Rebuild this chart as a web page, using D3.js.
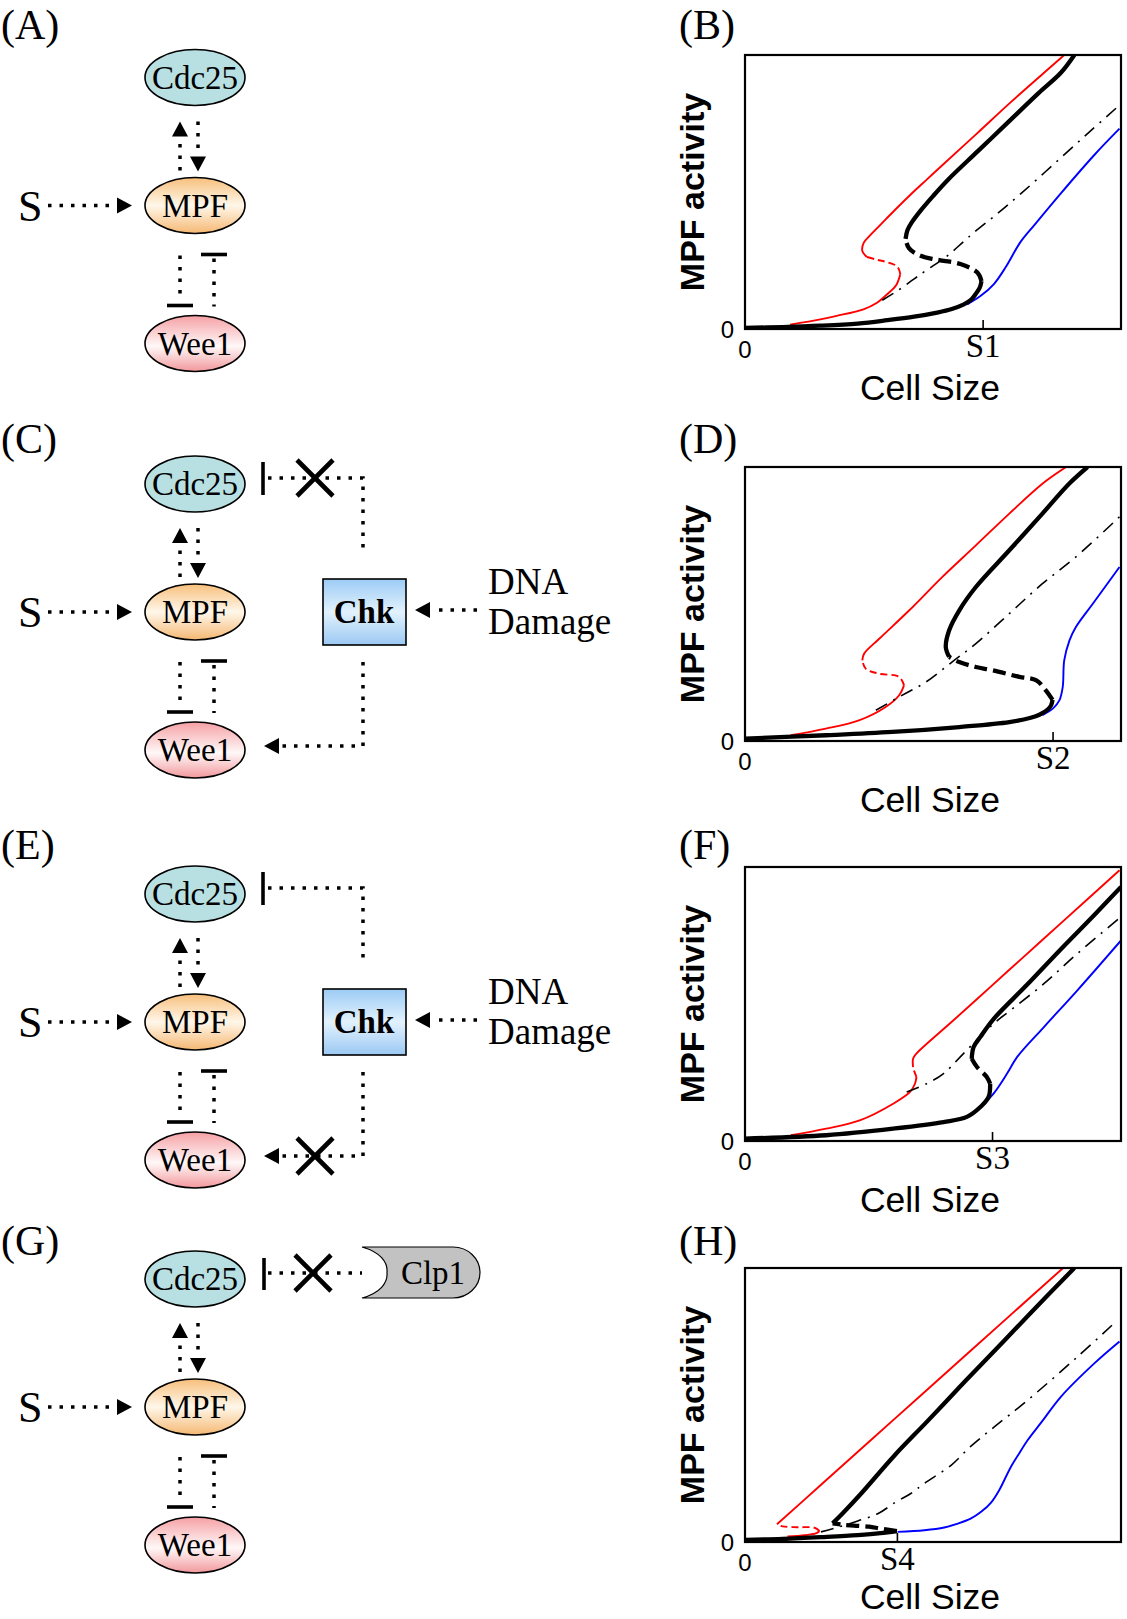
<!DOCTYPE html>
<html><head><meta charset="utf-8">
<script src="https://cdn.jsdelivr.net/npm/d3@7"></script>
<style>body{margin:0;background:#fff}</style>
</head><body>
<svg id="fig" width="1127" height="1619"></svg>
<script>
// ---------------- data ----------------
const panelLettersLeft = ["(A)", "(C)", "(E)", "(G)"];
const panelLettersRight = ["(B)", "(D)", "(F)", "(H)"];
const nodeNames = ["Cdc25", "MPF", "Wee1"];
const inputName = "S";
const kinaseName = "Chk";
const damageLines = ["DNA", "Damage"];
const phosphataseName = "Clp1";
const sizeTickLabels = ["S1", "S2", "S3", "S4"];
const sizeTickValues = [63.2, 81.8, 65.7, 40.4];
const zeroLabel = "0";
const xTitle = "Cell Size";
const yTitle = "MPF activity";

// Panel B
const B_blackLow  = [[0,0.4],[10,0.7],[20,1.2],[30,2],[37.8,3.2],[45,4.5],[51.1,6],[55,7.3],[58.2,9],[60,10.5],[61.3,12.7],[62.4,15],[62.9,17.5]];
const B_blackMid  = [[62.9,17.5],[61.8,20.6],[57.3,23.7],[52.9,24.9],[50.2,25.5],[46.7,26.7],[43.6,29.5],[42.7,32.9]];
const B_blackHigh = [[42.7,32.9],[43.2,36],[44.3,38.8],[46.7,43.2],[50,48.5],[54,54.5],[62,65],[70,75.5],[78,86],[84,93.5],[87.6,100]];
const B_redLow  = [[12,1.6],[20,3.5],[24.4,4.8],[31.5,7.2],[35,9.5],[37.8,12.7],[40.2,16],[41.3,20]];
const B_redMid  = [[41.3,20],[40.5,22.8],[37.5,24.5],[35,25.3],[32.4,26.3]];
const B_redHigh = [[32.4,26.3],[31.2,28.5],[31.6,31.5],[33.5,34.5],[36,38],[40,43.6],[44,49],[48.4,54.6],[52.9,60.3],[61.8,71.5],[70.7,82.8],[79.6,93.6],[84.9,100]];
const B_dashDot = [[36.5,10.5],[40.5,13.9],[44.9,18.2],[48,21.2],[53.8,26.7],[58.2,32],[60.9,35.2],[67,42],[73.3,49.3],[82,60],[91.1,71.3],[99.6,81.7]];
const B_blue = [[59.1,9],[62.7,12.1],[66.2,16.4],[69.3,22.5],[73.2,31.6],[77,38],[84,49.5],[92.9,63.5],[99.6,73.1]];

// Panel D
const D_blackLow  = [[0,0.9],[21.5,2.1],[39.2,3.3],[57,5.1],[70.3,6.9],[76,8.5],[78.3,9.6],[80.5,11.5],[81.4,13],[81.8,15]];
const D_blackMid  = [[81.8,15],[80,18.5],[77.5,22.1],[73,23.4],[65.8,25.8],[61.4,27],[57,28.8],[54.3,30.7]];
const D_blackHigh = [[54.3,30.7],[53.4,34.3],[54.3,40.4],[57,47.7],[61.4,56.2],[70.3,69.6],[79.1,83],[86.2,93.9],[91.1,100]];
const D_redLow  = [[12.2,2.1],[21.5,4.5],[30.3,7.5],[37.4,12.4],[41,16.7],[42.3,20.3]];
const D_redMid  = [[42.3,20.3],[41,23.4],[35.5,24.6],[32.1,26.4],[31.2,29.4]];
const D_redHigh = [[31.2,29.4],[31.7,31.9],[35.7,37.3],[43.7,47.7],[52.5,59.9],[61.4,71.4],[70.3,83],[79.1,93.9],[85.4,100]];
const D_dashDot = [[34.8,11.2],[41,16.1],[48.1,21.5],[55.2,29],[61.4,35.5],[70.3,46.5],[79.1,57.4],[88,67.2],[99.6,81.8]];
const D_blue = [[79.1,9.4],[82,12],[83.6,14.8],[84.5,19.7],[84.9,29.4],[86.3,36.7],[88,41.6],[92.5,50.1],[99.6,63.5]];

// Panel F
const F_blackLow  = [[0,0.9],[21.6,2.1],[39.4,4.5],[52.8,6.9],[59,8.8],[62.6,12.4],[64.8,16.1],[65.2,20.9]];
const F_blackMid  = [[65.2,20.9],[64.3,23.4],[61.7,27],[60.3,30]];
const F_blackHigh = [[60.3,30],[60.8,34.3],[62.6,38],[66.1,44.5],[75,57],[84,70],[92.9,82.5],[100,92.7]];
const F_redLow  = [[12.2,2.1],[21.6,4.5],[30.5,7.5],[39.4,13.6],[43.9,17.9],[45.2,20.9],[45.6,23.4]];
const F_redMid  = [[45.6,23.4],[45,25.5],[44.7,27]];
const F_redHigh = [[44.7,27],[44.7,30],[45.6,31.9],[55,43.5],[65,55.9],[75,68.3],[85,80.7],[99.6,98.8]];
const F_dashDot = [[43,17.9],[48.3,20.9],[52.8,24.6],[58.1,31.9],[66.1,42.8],[70.6,47.7],[79.5,57.4],[88.4,68.4],[100,81.8]];
const F_blue = [[61.7,11.2],[66.1,17.3],[69.7,24.6],[72.4,30.7],[79.5,41.6],[88.4,55],[100,73.2]];

// Panel H
const H_blackLow  = [[0,0.8],[10,1.1],[21,1.8],[30,2.5],[36,3.2],[40.4,4]];
const H_blackMid  = [[40.4,4],[36,4.9],[33,5.6],[29,6],[26,6.3],[23.3,6.8]];
const H_blackHigh = [[23.3,6.8],[26,10.5],[30.9,17.7],[39.7,31.5],[48.6,44.2],[57.4,57],[66.3,69.7],[75.2,82.5],[87.6,100]];
const H_redLow  = [[11.3,2.0],[16,2.5],[19,3.2],[19.8,4]];
const H_redMid  = [[19.8,4],[18.5,5.2],[14,5.4],[10,5.7],[8.5,6.5]];
const H_redHigh = [[8.5,6.5],[20,20.6],[40,45.2],[60,69.8],[84.6,100]];
const H_dashDot = [[20.2,3.7],[25,5.5],[30,7.7],[35.3,10.3],[40.2,14.7],[44.1,17.7],[47.7,21.4],[54.8,28],[60.1,35],[66.3,42],[75.2,51.8],[88.5,67.7],[98.7,80.5]];
const H_blue = [[40.6,3.7],[47.7,4.3],[53,5.3],[56.6,6.7],[60,8.5],[62.8,11],[65.5,14.5],[67.6,18.9],[70.7,27.4],[73,32.5],[75.2,37.2],[79,44],[84,53],[92.9,65.2],[99.6,73.2]];

// ---------------- drawing ----------------
const svg = d3.select("#fig");
const SERIF = "'Liberation Serif','Times New Roman',serif";
const SANS = "'Liberation Sans',Arial,sans-serif";

const defs = svg.append("defs");
function vgrad(id, stops) {
  const g = defs.append("linearGradient").attr("id", id).attr("x1",0).attr("y1",0).attr("x2",0).attr("y2",1);
  stops.forEach(s => g.append("stop").attr("offset", s[0]).attr("stop-color", s[1]));
}
vgrad("gMPF", [[0,"#f7bf7c"],[0.5,"#fff7ea"],[1,"#f5b873"]]);
vgrad("gWee", [[0,"#f5a0a4"],[0.55,"#fff8f8"],[1,"#f2989c"]]);
vgrad("gChk", [[0,"#9ccbf5"],[0.5,"#e2f2fd"],[1,"#9bc8f3"]]);

const DOT = "3.5,8";
function dotted(g, pts) {
  g.append("path").attr("d", d3.line()(pts)).attr("fill","none").attr("stroke","#000")
    .attr("stroke-width",3.5).attr("stroke-dasharray",DOT);
}
function tri(g, x, y, dir) {
  const L = 15, W = 8;
  let p;
  if (dir === "up") p = [[x,y],[x-W,y+L],[x+W,y+L]];
  else if (dir === "down") p = [[x,y],[x-W,y-L],[x+W,y-L]];
  else if (dir === "left") p = [[x,y],[x+L,y-W],[x+L,y+W]];
  else p = [[x,y],[x-L,y-W],[x-L,y+W]];
  g.append("polygon").attr("points", p.map(d=>d.join(",")).join(" ")).attr("fill","#000");
}
function bar(g, x1,y1,x2,y2) {
  g.append("line").attr("x1",x1).attr("y1",y1).attr("x2",x2).attr("y2",y2)
    .attr("stroke","#000").attr("stroke-width",3.6);
}
function xmark(g, cx, cy) {
  const h = 18;
  [[-h,-h,h,h],[-h,h,h,-h]].forEach(a => g.append("line")
    .attr("x1",cx+a[0]).attr("y1",cy+a[1]).attr("x2",cx+a[2]).attr("y2",cy+a[3])
    .attr("stroke","#000").attr("stroke-width",4.6));
}
function node(g, cx, cy, fill, label) {
  g.append("ellipse").attr("cx",cx).attr("cy",cy).attr("rx",50).attr("ry",28)
    .attr("fill",fill).attr("stroke","#000").attr("stroke-width",1.6);
  g.append("text").attr("x",cx).attr("y",cy+11).attr("text-anchor","middle")
    .attr("font-family",SERIF).attr("font-size",33).text(label);
}

const diagramCdcY = [77.5, 484, 894, 1279];
const labelBase = [39, 453, 859, 1255];

function diagram(i) {
  const g = svg.append("g");
  const cy = diagramCdcY[i];
  const m = cy + 128, w = cy + 266, cx = 195;
  g.append("text").attr("x",1).attr("y",labelBase[i]).attr("font-family",SERIF)
    .attr("font-size",42).text(panelLettersLeft[i]);
  dotted(g, [[180, m-35],[180, m-66]]); tri(g, 180, m-84, "up");
  dotted(g, [[198, m-84],[198, m-52]]); tri(g, 198, m-34, "down");
  g.append("text").attr("x",18).attr("y",m+15).attr("font-family",SERIF).attr("font-size",44).text(inputName);
  dotted(g, [[48, m],[118, m]]); tri(g, 132, m, "right");
  dotted(g, [[180, m+50],[180, m+94]]); bar(g, 167, m+100, 193, m+100);
  bar(g, 201, m+49, 227, m+49); dotted(g, [[214, m+53],[214, m+101]]);
  node(g, cx, cy, "#b8dfe2", nodeNames[0]);
  node(g, cx, m, "url(#gMPF)", nodeNames[1]);
  node(g, cx, w, "url(#gWee)", nodeNames[2]);

  if (i === 1 || i === 2) {
    g.append("rect").attr("x",323).attr("y",cy+95).attr("width",83).attr("height",66)
      .attr("fill","url(#gChk)").attr("stroke","#000").attr("stroke-width",1.6);
    g.append("text").attr("x",364).attr("y",cy+139).attr("text-anchor","middle")
      .attr("font-family",SERIF).attr("font-weight","bold").attr("font-size",33).text(kinaseName);
    dotted(g, [[268, cy-6],[363, cy-6],[363, cy+70]]);
    bar(g, 263, cy-22, 263, cy+11);
    dotted(g, [[363, cy+178],[363, cy+262],[280, cy+262]]);
    tri(g, 264, cy+262, "left");
    if (i === 1) xmark(g, 315, cy-6); else xmark(g, 315, cy+262);
    dotted(g, [[477, cy+126],[431, cy+126]]); tri(g, 415, cy+126, "left");
    g.append("text").attr("x",488).attr("y",cy+110).attr("font-family",SERIF).attr("font-size",37).text(damageLines[0]);
    g.append("text").attr("x",488).attr("y",cy+150).attr("font-family",SERIF).attr("font-size",37).text(damageLines[1]);
  }
  if (i === 3) {
    dotted(g, [[268, cy-6],[362, cy-6]]);
    bar(g, 264, cy-21, 264, cy+11);
    xmark(g, 313, cy-6);
    const t = cy-32, b = cy+19;
    g.append("path").attr("d",
      `M362,${t} L453,${t} A27,25.5 0 0 1 453,${b} L362,${b} C380,${b-5} 388,${b-15} 387,${(t+b)/2} C388,${t+15} 380,${t+5} 362,${t} Z`)
      .attr("fill","#c2c2c2").attr("stroke","#000").attr("stroke-width",1.2);
    g.append("text").attr("x",433).attr("y",cy+5).attr("text-anchor","middle")
      .attr("font-family",SERIF).attr("font-size",33).text(phosphataseName);
  }
}

const chartTops = [55, 467, 867, 1268];
const chartSeries = [
  {blackLow:B_blackLow, blackMid:B_blackMid, blackHigh:B_blackHigh, redLow:B_redLow, redMid:B_redMid, redHigh:B_redHigh, dashDot:B_dashDot, blue:B_blue},
  {blackLow:D_blackLow, blackMid:D_blackMid, blackHigh:D_blackHigh, redLow:D_redLow, redMid:D_redMid, redHigh:D_redHigh, dashDot:D_dashDot, blue:D_blue},
  {blackLow:F_blackLow, blackMid:F_blackMid, blackHigh:F_blackHigh, redLow:F_redLow, redMid:F_redMid, redHigh:F_redHigh, dashDot:F_dashDot, blue:F_blue},
  {blackLow:H_blackLow, blackMid:H_blackMid, blackHigh:H_blackHigh, redLow:H_redLow, redMid:H_redMid, redHigh:H_redHigh, dashDot:H_dashDot, blue:H_blue}
];

function chart(i) {
  const top = chartTops[i], H = 274, L = 745, R = 1121, bottom = top + H;
  const x = d3.scaleLinear().domain([0,100]).range([L,R]);
  const y = d3.scaleLinear().domain([0,100]).range([bottom, top]);
  const g = svg.append("g");
  const s = chartSeries[i];
  const clipId = "clip" + i;
  defs.append("clipPath").attr("id", clipId).append("rect")
    .attr("x",L).attr("y",top).attr("width",R-L).attr("height",H);
  const line = d3.line().x(d=>x(d[0])).y(d=>y(d[1])).curve(d3.curveCatmullRom.alpha(0.5));
  const pg = g.append("g").attr("clip-path", `url(#${clipId})`);
  function draw(data, color, width, dash) {
    pg.append("path").attr("d", line(data)).attr("fill","none").attr("stroke",color)
      .attr("stroke-width",width).attr("stroke-dasharray", dash || null);
  }
  draw(s.redLow, "#ff0000", 1.9);
  draw(s.redMid, "#ff0000", 1.9, "7,4");
  draw(s.redHigh, "#ff0000", 1.9);
  draw(s.blue, "#0000ff", 1.9);
  draw(s.dashDot, "#000", 1.6, "13,7,2,7");
  draw(s.blackLow, "#000", 4.3);
  draw(s.blackMid, "#000", 4.3, "13,6");
  draw(s.blackHigh, "#000", 4.3);

  g.append("rect").attr("x",L).attr("y",top).attr("width",R-L).attr("height",H)
    .attr("fill","none").attr("stroke","#000").attr("stroke-width",2.2);

  const xa = g.append("g").attr("transform",`translate(0,${bottom})`)
    .call(d3.axisBottom(x).tickValues([sizeTickValues[i]]).tickSizeInner(-9).tickSizeOuter(0)
      .tickFormat(() => sizeTickLabels[i]).tickPadding(6));
  xa.select(".domain").remove();
  xa.selectAll("line").attr("stroke","#000").attr("stroke-width",1.6);
  xa.selectAll("text").attr("font-family",SERIF).attr("font-size",33).attr("fill","#000")
    .attr("dy",null).attr("y",28);

  const ya = g.append("g").attr("transform",`translate(${L},0)`)
    .call(d3.axisLeft(y).tickValues([0]).tickSize(0).tickFormat(() => zeroLabel).tickPadding(11));
  ya.select(".domain").remove();
  ya.selectAll("text").attr("font-family",SANS).attr("font-size",24).attr("fill","#000")
    .attr("dy",null).attr("y",8);
  g.append("text").attr("x",x(0)).attr("y",bottom+29).attr("text-anchor","middle")
    .attr("font-family",SANS).attr("font-size",24).text(zeroLabel);

  g.append("text").attr("x",(L+R)/2-3).attr("y",Math.min(bottom+71, 1609)).attr("text-anchor","middle")
    .attr("font-family",SANS).attr("font-size",35.5).text(xTitle);
  g.append("text").attr("transform",`translate(704,${top+H/2}) rotate(-90)`).attr("text-anchor","middle")
    .attr("font-family",SANS).attr("font-weight","bold").attr("font-size",34).text(yTitle);
  g.append("text").attr("x",679).attr("y",labelBase[i]).attr("font-family",SERIF)
    .attr("font-size",42).text(panelLettersRight[i]);
}

for (let i = 0; i < 4; i++) { diagram(i); chart(i); }
</script>
</body></html>
